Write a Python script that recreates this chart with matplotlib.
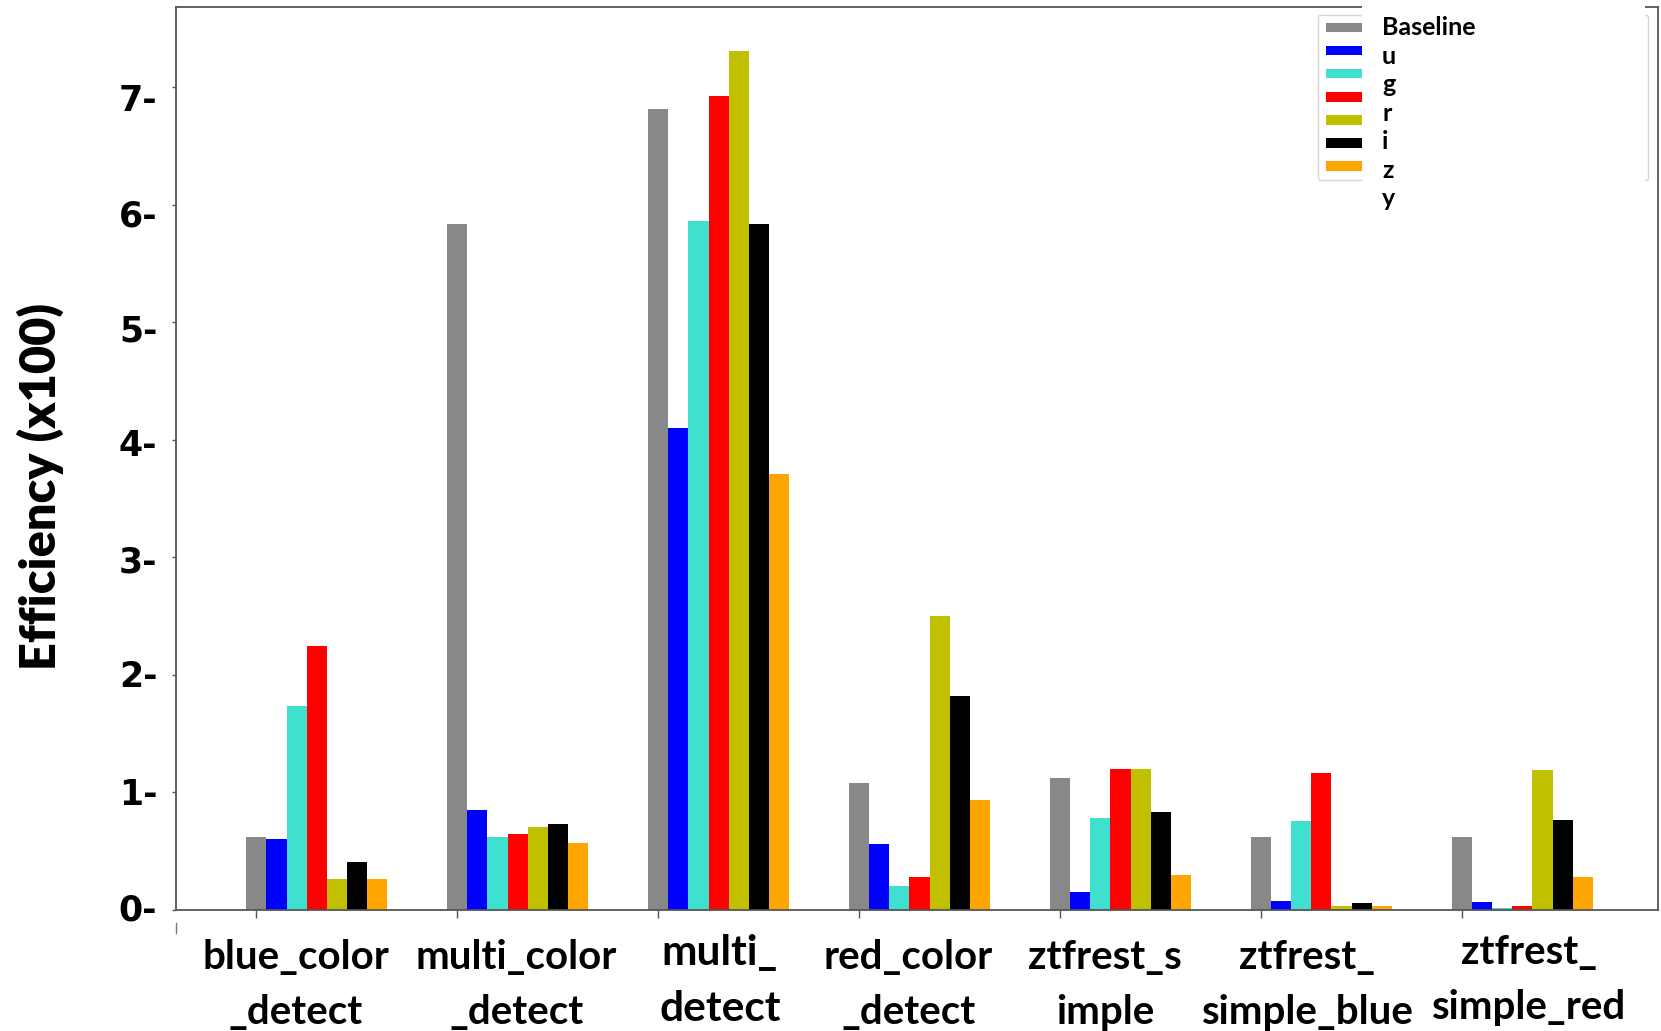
import numpy as np
import matplotlib
matplotlib.use('Agg')
import matplotlib.pyplot as plt
from matplotlib.patches import Rectangle
from matplotlib.transforms import ScaledTranslation

# group labels (as printed under the axis)
groups = ['blue_color\n_detect', 'multi_color\n_detect', 'multi_\ndetect',
          'red_color\n_detect', 'ztfrest_s\nimple', 'ztfrest_\nsimple_blue',
          'ztfrest_\nsimple_red']

series = ['Baseline', 'u', 'g', 'r', 'i', 'z', 'y']
colors = ['#888888', 'blue', 'turquoise', 'red', '#c0c000', 'black', 'orange']

# efficiency (x100), one list per series, in group order
baseline = [0.62, 5.84, 6.82, 1.08, 1.12, 0.62, 0.62]
u_band   = [0.60, 0.85, 4.10, 0.56, 0.15, 0.08, 0.07]
g_band   = [1.74, 0.62, 5.86, 0.20, 0.78, 0.76, 0.02]
r_band   = [2.25, 0.65, 6.93, 0.28, 1.20, 1.17, 0.03]
i_band   = [0.26, 0.71, 7.31, 2.50, 1.20, 0.03, 1.19]
z_band   = [0.41, 0.73, 5.84, 1.82, 0.83, 0.06, 0.77]
y_band   = [0.26, 0.57, 3.71, 0.94, 0.30, 0.03, 0.28]
values = [baseline, u_band, g_band, r_band, i_band, z_band, y_band]

W, H = 1661, 1031
fig = plt.figure(figsize=(W / 100, H / 100), dpi=100)
ax = fig.add_axes([176 / W, 1 - 910 / H, (1658 - 176) / W, (910 - 7) / H])

x = np.arange(len(groups))
bw = 0.1
handles = []
for i, (vals, col) in enumerate(zip(values, colors)):
    b = ax.bar(x + i * bw, vals, bw, color=col, label=series[i])
    handles.append(b)

ax.set_xlim(-0.4, 6.975)
ax.set_ylim(0, 7.685)

for s in ax.spines.values():
    s.set_color('#555555')
    s.set_linewidth(1.3)

# y axis
ax.set_yticks(range(8))
ax.set_yticklabels([f'{v}-' for v in range(8)], fontfamily='DejaVu Sans',
                   fontweight='bold', fontsize=25)
ax.tick_params(axis='y', length=3, width=1, color='#555555', pad=10.5)
fig.text(40 / W, 1 - 486 / H, 'Efficiency (x100)', rotation=90,
         ha='center', va='center', fontfamily='Lato', fontweight='heavy',
         fontsize=35)

# x axis: marks at first bar of every group, labels at group centres
ax.set_xticks(x, minor=True)
ax.tick_params(axis='x', which='minor', length=6, width=1, color='#555555')
ax.set_xticks(x + 0.3)
ax.set_xticklabels(groups, fontfamily='Lato', fontweight='bold', fontsize=29,
                   linespacing=1.6)
ax.tick_params(axis='x', which='major', length=0, pad=21)
ax.get_xticklabels()[2].set_fontsize(30.5)

# labels in the original sit a little off their nominal spots (points)
x_shifts = [(-15, 0), (-1, 0), (1, 4), (-8, 0), (-11, 0), (-10, 0), (5, 4)]
for lbl, (dx, dy) in zip(ax.get_xticklabels(), x_shifts):
    lbl.set_transform(lbl.get_transform() +
                      ScaledTranslation(dx / 72, dy / 72, fig.dpi_scale_trans))
y_shifts = [2, 1, 1, -1, -1.5, -4, -6, -7]
for lbl, dy in zip(ax.get_yticklabels(), y_shifts):
    lbl.set_transform(lbl.get_transform() +
                      ScaledTranslation(0, dy / 72, fig.dpi_scale_trans))

# stray mark under the corner
ax.plot([0, 0], [-0.014, -0.026], transform=ax.transAxes, clip_on=False,
        color='#777777', lw=1)

# legend: coloured keys only, names written beside them
leg = ax.legend(handles, [''] * len(series), loc='upper left', mode='expand',
                bbox_to_anchor=(1318 / W, 1 - 15 / H, (1648 - 1318) / W, 0),
                bbox_transform=fig.transFigure, borderaxespad=0,
                prop={'size': 8}, handleheight=0.95, handlelength=4,
                labelspacing=1.12, borderpad=0.7, frameon=True)

fig.add_artist(Rectangle((1362 / W, 1 - 215 / H), (1645 - 1362) / W, 215 / H,
                         transform=fig.transFigure, fc='white', ec='none',
                         zorder=5))
fig.text(1382 / W, 1 - 16 / H, '\n'.join(series), ha='left', va='top',
         fontfamily='Lato', fontweight='bold', fontsize=18, linespacing=1.29,
         zorder=6)

plt.savefig('out.png', dpi=100)
